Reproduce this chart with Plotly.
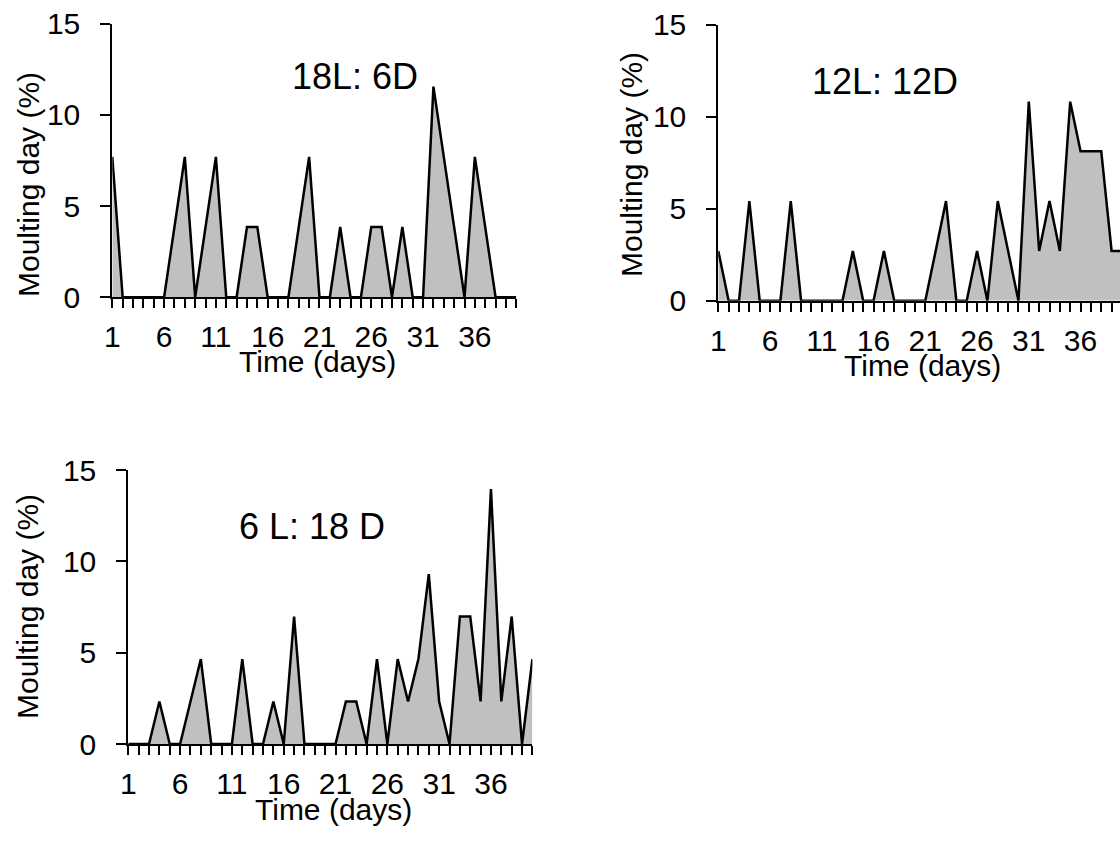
import plotly.graph_objects as go

# ---------------- data ----------------
days = list(range(1, 41))
tick_days = [1, 6, 11, 16, 21, 26, 31, 36]
tick_text = [str(d) for d in tick_days]
y_ticks = [0, 5, 10, 15]

moult_18L_6D = [7.69, 0, 0, 0, 0, 0, 3.85, 7.69, 0, 3.85,
                7.69, 0, 0, 3.85, 3.85, 0, 0, 0, 3.85, 7.69,
                0, 0, 3.85, 0, 0, 3.85, 3.85, 0, 3.85, 0,
                0, 11.54, 7.69, 3.85, 0, 7.69, 3.85, 0, 0, 0]
moult_12L_12D = [2.70, 0, 0, 5.41, 0, 0, 0, 5.41, 0, 0,
                 0, 0, 0, 2.70, 0, 0, 2.70, 0, 0, 0,
                 0, 2.70, 5.41, 0, 0, 2.70, 0, 5.41, 2.70, 0,
                 10.81, 2.70, 5.41, 2.70, 10.81, 8.11, 8.11, 8.11, 2.70, 2.70]
moult_6L_18D = [0, 0, 0, 2.33, 0, 0, 2.33, 4.65, 0, 0,
                0, 4.65, 0, 0, 2.33, 0, 6.98, 0, 0, 0,
                0, 2.33, 2.33, 0, 4.65, 0, 4.65, 2.33, 4.65, 9.30,
                2.33, 0, 6.98, 6.98, 2.33, 13.95, 2.33, 6.98, 0, 4.65]

panel_labels = ["18L: 6D", "12L: 12D", "6 L: 18 D"]
x_title = "Time (days)"
y_title = "Moulting day (%)"

# ---------------- layout geometry ----------------
W, H = 1120, 843
FONT = "Liberation Sans, Arial, sans-serif"

def px(x):
    return x / W

def py(y):
    return 1 - y / H

panels = [
    dict(series=moult_18L_6D, xd=[px(112.3), px(516.3)], yd=[py(297.3), py(23.5)],
         xr=[1, 40], label_pos=(355, 76), xt_pos=(317, 362), yt_pos=(29, 185)),
    dict(series=moult_12L_12D, xd=[px(718.3), 1.0], yd=[py(300.7), py(24.5)],
         xr=[1, 1 + (W - 718.3) / 10.35], label_pos=(885, 81), xt_pos=(922, 365), yt_pos=(631, 165)),
    dict(series=moult_6L_18D, xd=[px(128.3), px(532.4)], yd=[py(744), py(470)],
         xr=[1, 40], label_pos=(312, 526), xt_pos=(333, 809), yt_pos=(27, 607)),
]

fig = go.Figure()
annotations = []
for i, p in enumerate(panels):
    n = "" if i == 0 else str(i + 1)
    fig.add_trace(go.Scatter(
        x=days, y=p["series"], mode="lines",
        line=dict(color="black", width=2.5),
        fill="tozeroy", fillcolor="#C0C0C0",
        xaxis="x" + n, yaxis="y" + n, showlegend=False, hoverinfo="skip",
    ))
    fig.update_layout(**{
        "xaxis" + n: dict(
            domain=p["xd"], range=p["xr"], anchor="y" + n,
            showgrid=False, zeroline=False, showline=True,
            linecolor="black", linewidth=2,
            tickmode="array", tickvals=tick_days, ticktext=tick_text,
            ticks="outside", ticklen=9, tickwidth=2, tickcolor="black",
            ticklabelstandoff=3,
            minor=dict(ticks="outside", ticklen=9, tickwidth=2, tickcolor="black",
                       tickmode="linear", tick0=1, dtick=1, showgrid=False),
            tickfont=dict(family=FONT, size=30, color="black"),
        ),
        "yaxis" + n: dict(
            domain=p["yd"], range=[0, 15], anchor="x" + n,
            showgrid=False, zeroline=False, showline=True,
            linecolor="black", linewidth=2,
            tickmode="array", tickvals=y_ticks,
            ticks="outside", ticklen=10, tickwidth=2, tickcolor="black",
            ticklabelstandoff=14,
            tickfont=dict(family=FONT, size=30, color="black"),
        ),
    })
    lx, ly = p["label_pos"]
    annotations.append(dict(text=panel_labels[i], x=px(lx), y=py(ly), xref="paper", yref="paper",
                            showarrow=False, xanchor="center", yanchor="middle",
                            font=dict(family=FONT, size=36, color="black")))
    tx, ty = p["xt_pos"]
    annotations.append(dict(text=x_title, x=px(tx), y=py(ty), xref="paper", yref="paper",
                            showarrow=False, xanchor="center", yanchor="middle",
                            font=dict(family=FONT, size=30, color="black")))
    yx, yy = p["yt_pos"]
    annotations.append(dict(text=y_title, x=px(yx), y=py(yy), xref="paper", yref="paper",
                            showarrow=False, xanchor="center", yanchor="middle", textangle=-90,
                            font=dict(family=FONT, size=30, color="black")))

fig.update_layout(
    width=W, height=H, autosize=False,
    margin=dict(l=0, r=0, t=0, b=0, pad=0, autoexpand=False),
    paper_bgcolor="white", plot_bgcolor="rgba(0,0,0,0)",
    annotations=annotations,
)

fig.write_html("out.html")
